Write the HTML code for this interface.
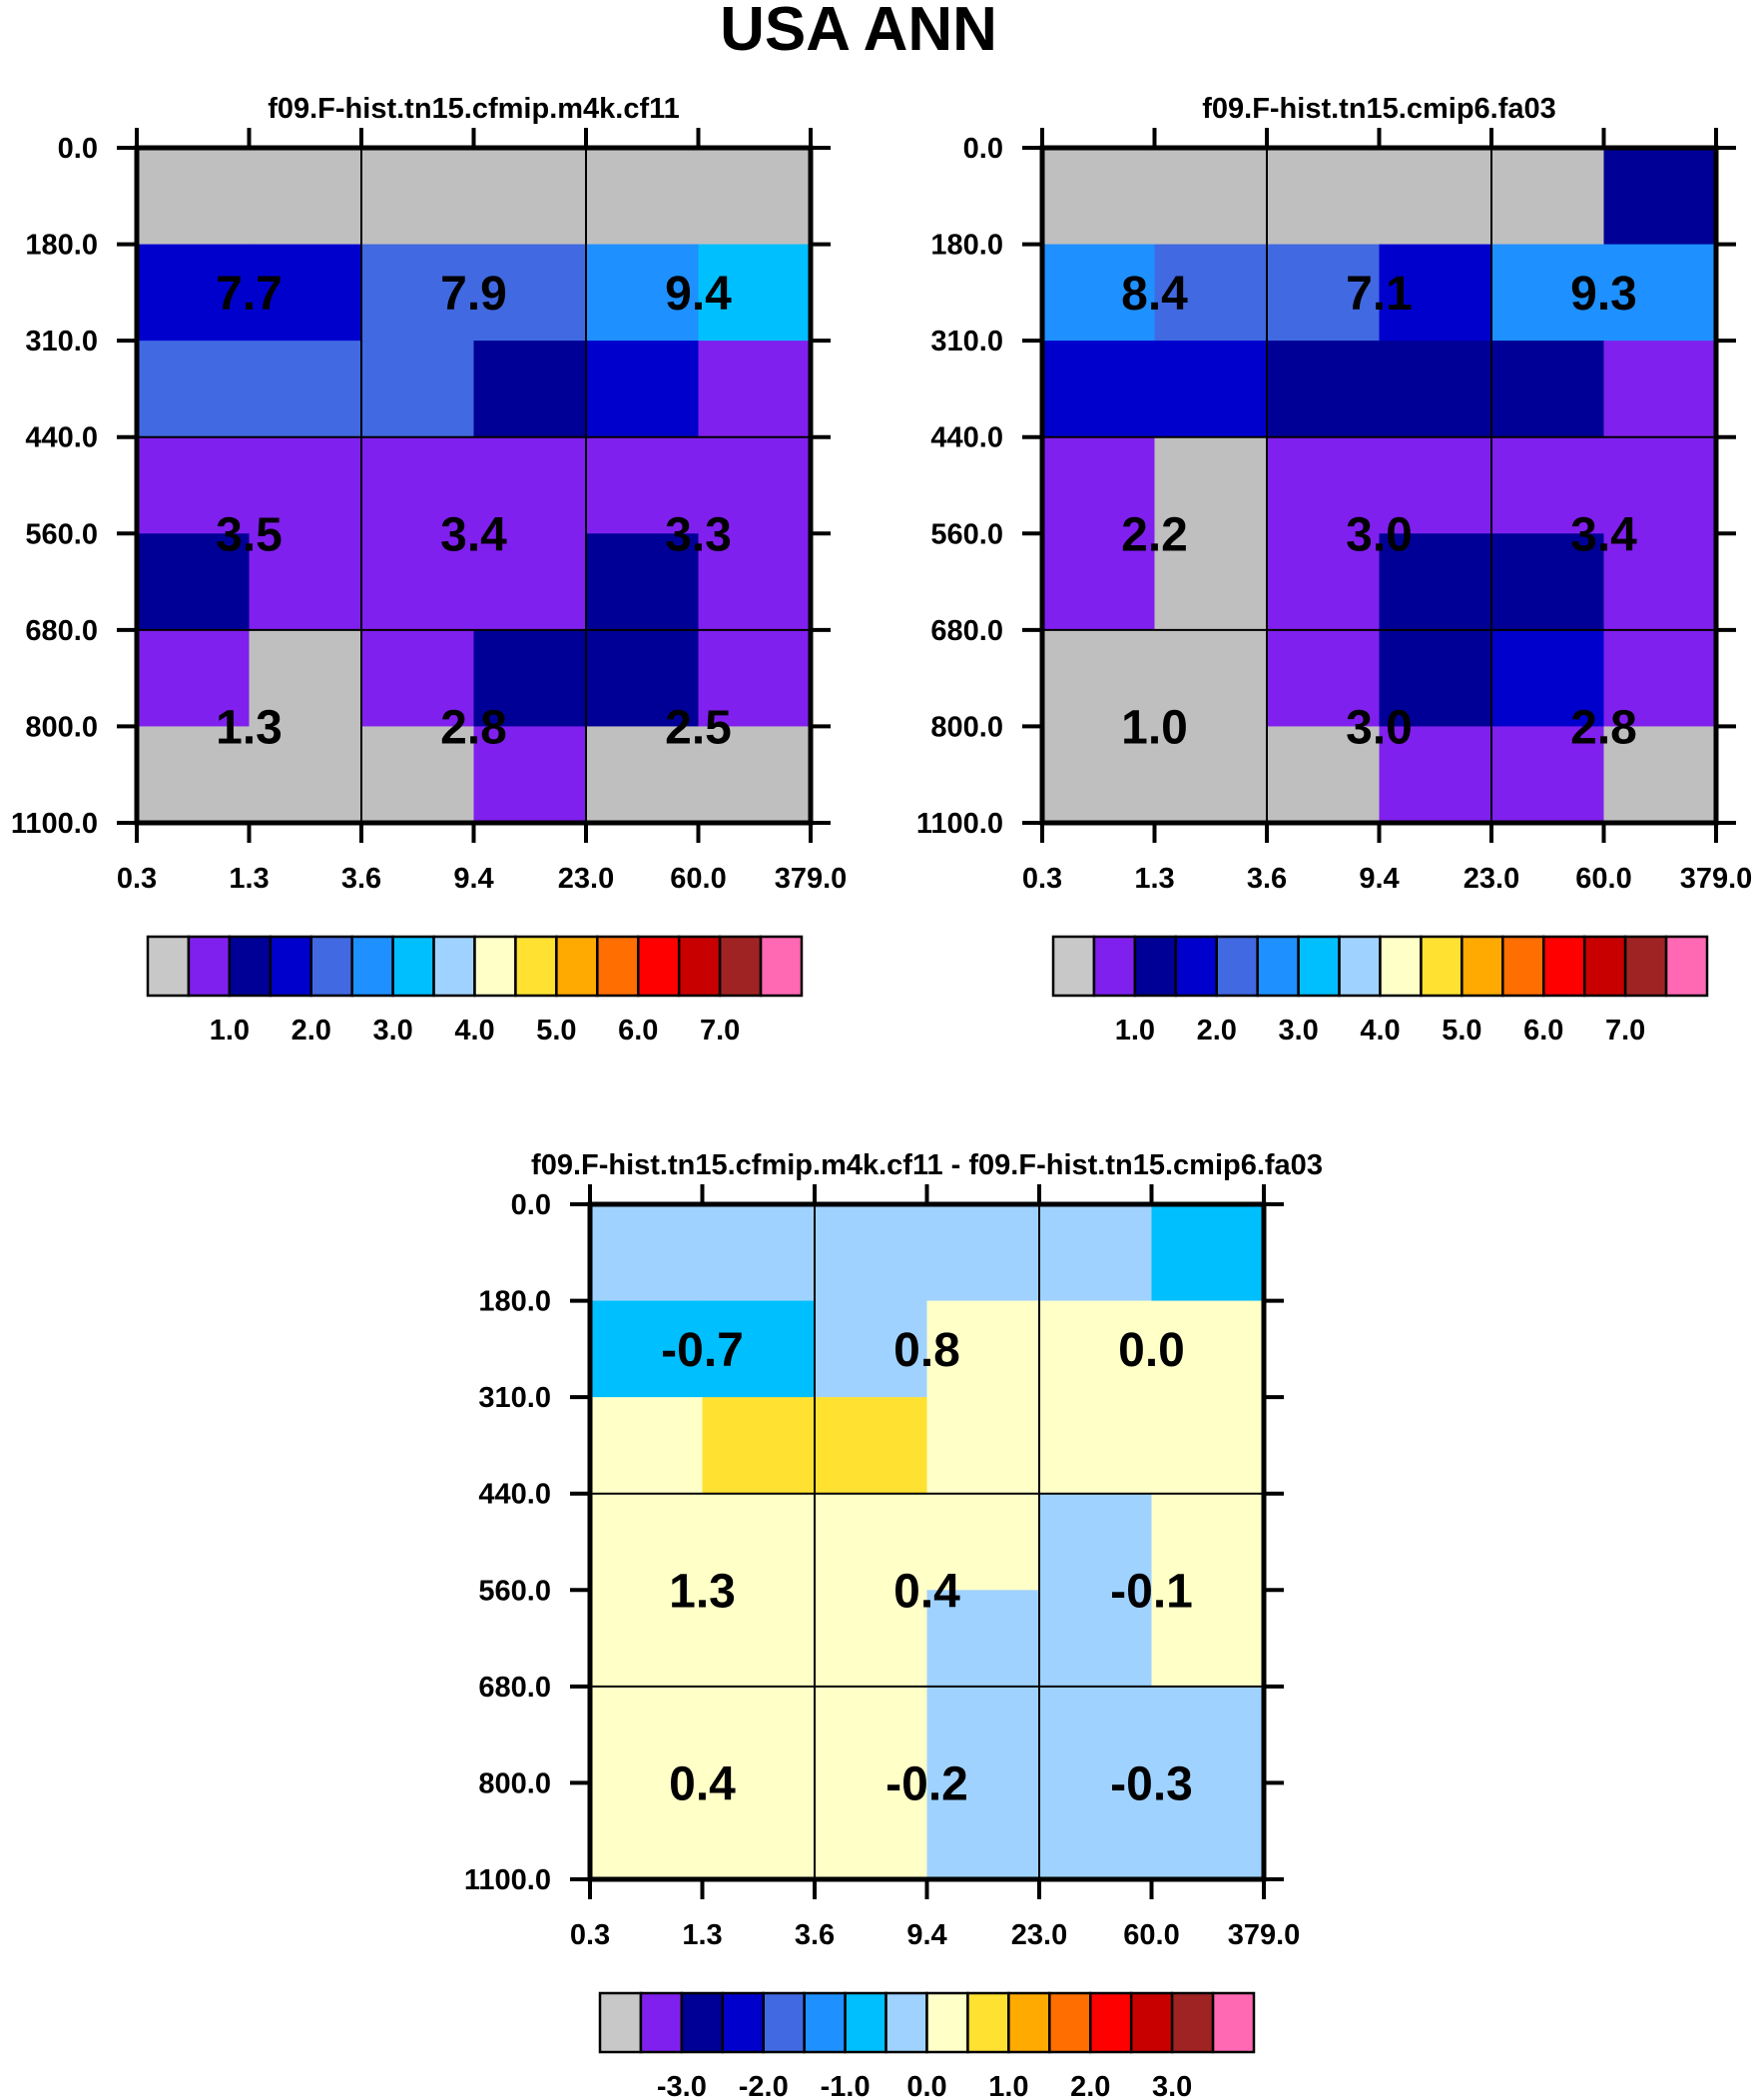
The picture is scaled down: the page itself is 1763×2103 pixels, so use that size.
<!DOCTYPE html>
<html><head><meta charset="utf-8">
<style>
html,body{margin:0;padding:0;background:#fff;}
svg{display:block;font-family:"Liberation Sans",Arial,sans-serif;font-weight:bold;}
</style></head>
<body>
<svg id="fig" width="1763" height="2103" viewBox="0 0 1763 2103" xmlns="http://www.w3.org/2000/svg">
<text x="860" y="50" font-size="62" text-anchor="middle">USA ANN</text>
</svg>
<script>
const palette = ["#bfbfbf","#8020ee","#000096","#0000cd","#4169e1","#1e90ff","#00bfff","#a0d2ff","#ffffc8","#ffe132","#ffaa00","#ff6e00","#ff0000","#c80000","#a02323","#ff69b4"];
const barPalette = ["#c8c8c8","#8020ee","#000096","#0000cd","#4169e1","#1e90ff","#00bfff","#a0d2ff","#ffffc8","#ffe132","#ffaa00","#ff6e00","#ff0000","#c80000","#a02323","#ff69b4"];
const xTicks = ["0.3","1.3","3.6","9.4","23.0","60.0","379.0"];
const yTicks = ["0.0","180.0","310.0","440.0","560.0","680.0","800.0","1100.0"];
const gridA = [[0,0,0,0,0,0],[3,3,4,4,5,6],[4,4,4,2,3,1],[1,1,1,1,1,1],[2,1,1,1,2,1],[1,0,1,2,2,1],[0,0,0,1,0,0]];
const gridB = [[0,0,0,0,0,2],[5,4,4,3,5,5],[3,3,2,2,2,1],[1,0,1,1,1,1],[1,0,1,2,2,1],[0,0,1,2,3,1],[0,0,0,1,1,0]];
const gridD = [[7,7,7,7,7,6],[6,6,7,8,8,8],[8,9,9,8,8,8],[8,8,8,8,7,8],[8,8,8,7,7,8],[8,8,8,7,7,7],[8,8,8,7,7,7]];
const valsA = [["7.7","7.9","9.4"],["3.5","3.4","3.3"],["1.3","2.8","2.5"]];
const valsB = [["8.4","7.1","9.3"],["2.2","3.0","3.4"],["1.0","3.0","2.8"]];
const valsD = [["-0.7","0.8","0.0"],["1.3","0.4","-0.1"],["0.4","-0.2","-0.3"]];
const barLabelsAbs = ["1.0","2.0","3.0","4.0","5.0","6.0","7.0"];
const barLabelsDiff = ["-3.0","-2.0","-1.0","0.0","1.0","2.0","3.0"];

const NS="http://www.w3.org/2000/svg";
const svg=document.getElementById('fig');
function mk(tag,attrs,parent){const e=document.createElementNS(NS,tag);for(const k in attrs)e.setAttribute(k,attrs[k]);(parent||svg).appendChild(e);return e;}

function panel(name,x0,y0,title,grid,vals){
  const W=675,H=676;
  const g=mk('g',{});
  
  
  const nc=grid[0].length,nr=grid.length;
  const xs=i=>x0+W*i/nc, ys=j=>y0+H*j/nr;
  for(let r=0;r<nr;r++)for(let c=0;c<nc;c++){
    const cell=mk('rect',{x:xs(c),y:ys(r),width:W/nc+0.6,height:H/nr+0.6,fill:palette[grid[r][c]]},g);
    
    
  }
  [2,4].forEach(i=>{mk('line',{x1:xs(i),x2:xs(i),y1:y0,y2:y0+H,stroke:'#000','stroke-width':2},g);});
  [3,5].forEach(j=>{mk('line',{x1:x0,x2:x0+W,y1:ys(j),y2:ys(j),stroke:'#000','stroke-width':2},g);});
  mk('rect',{x:x0,y:y0,width:W,height:H,fill:'none',stroke:'#000','stroke-width':5},g);
  for(let i=0;i<xTicks.length;i++){
    const x=x0+W*i/(xTicks.length-1);
    mk('line',{x1:x,x2:x,y1:y0-20,y2:y0,stroke:'#000','stroke-width':4},g);
    mk('line',{x1:x,x2:x,y1:y0+H,y2:y0+H+20,stroke:'#000','stroke-width':4},g);
    const t=mk('text',{x:x,y:y0+H+65,'font-size':29,'text-anchor':'middle'},g);
    t.textContent=xTicks[i];
    
    
  }
  for(let j=0;j<yTicks.length;j++){
    const y=y0+H*j/(yTicks.length-1);
    mk('line',{x1:x0-20,x2:x0,y1:y,y2:y,stroke:'#000','stroke-width':4},g);
    mk('line',{x1:x0+W,x2:x0+W+20,y1:y,y2:y,stroke:'#000','stroke-width':4},g);
    const t=mk('text',{x:x0-39,y:y+10,'font-size':29,'text-anchor':'end'},g);
    t.textContent=yTicks[j];
    
    
  }
  const tt=mk('text',{x:x0+W/2,y:y0-30,'font-size':29,'text-anchor':'middle'},g);
  tt.textContent=title;
  
  
  const rowPos=[1.5,4,6];
  for(let r=0;r<3;r++)for(let c=0;c<3;c++){
    const t=mk('text',{x:xs(2*c+1),y:ys(rowPos[r])+17,'font-size':48,'text-anchor':'middle'},g);
    t.textContent=vals[r][c];
    
    
  }
}
function colorbar(name,x0,y0,labels){
  const W=655,H=59,n=barPalette.length,bw=W/n;
  const g=mk('g',{});
  
  
  for(let i=0;i<n;i++){
    const b=mk('rect',{x:x0+i*bw,y:y0,width:bw,height:H,fill:barPalette[i],stroke:'#000','stroke-width':2.5},g);
    
    
  }
  for(let k=0;k<labels.length;k++){
    const t=mk('text',{x:x0+(2*k+2)*bw,y:y0+H+44,'font-size':29,'text-anchor':'middle'},g);
    t.textContent=labels[k];
    
    
  }
}
panel('panel-cf11',137,148,'f09.F-hist.tn15.cfmip.m4k.cf11',gridA,valsA);
panel('panel-fa03',1044,148,'f09.F-hist.tn15.cmip6.fa03',gridB,valsB);
panel('panel-diff',591,1206,'f09.F-hist.tn15.cfmip.m4k.cf11 - f09.F-hist.tn15.cmip6.fa03',gridD,valsD);
colorbar('colorbar-cf11',148,938,barLabelsAbs);
colorbar('colorbar-fa03',1055,938,barLabelsAbs);
colorbar('colorbar-diff',601,1996,barLabelsDiff);
</script>
</body></html>
